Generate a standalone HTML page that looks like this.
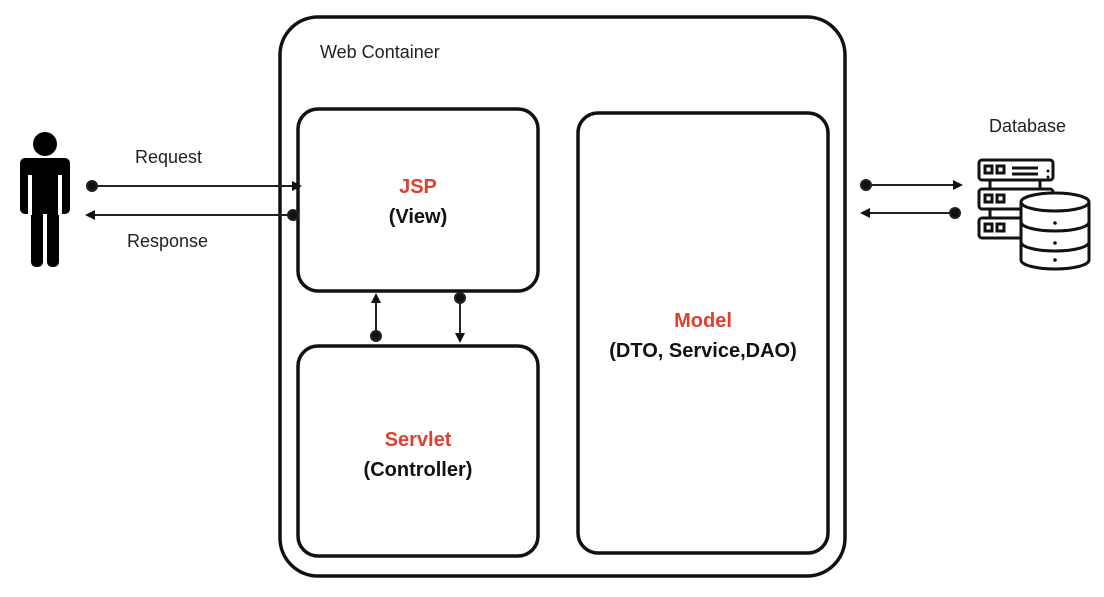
<!DOCTYPE html>
<html><head><meta charset="utf-8"><style>
body{margin:0;background:#fff;}
svg text{font-family:"Liberation Sans",sans-serif;}
</style></head><body>
<svg width="1104" height="592" viewBox="0 0 1104 592" xmlns="http://www.w3.org/2000/svg">
<defs>
<marker id="ah" markerWidth="10" markerHeight="10" refX="8" refY="5" orient="auto" markerUnits="userSpaceOnUse"><path d="M0,0 L10,5 L0,10 z" fill="#111"/></marker>
</defs>
<g fill="none" stroke="#111" stroke-width="3.5">
<rect x="280" y="17" width="565" height="559" rx="38"/>
<rect x="298" y="109" width="240" height="182" rx="20"/>
<rect x="298" y="346" width="240" height="210" rx="20"/>
<rect x="578" y="113" width="250" height="440" rx="20"/>
</g>
<!-- person -->
<g fill="#000">
<circle cx="45" cy="144" r="12"/>
<rect x="20" y="158" width="50" height="56" rx="5"/>
<rect x="31" y="200" width="12" height="67" rx="5"/>
<rect x="47" y="200" width="12" height="67" rx="5"/>
</g>
<rect x="28" y="175" width="4" height="40" fill="#fff"/>
<rect x="58" y="175" width="4" height="40" fill="#fff"/>
<!-- arrows -->
<g stroke="#222" stroke-width="2" fill="#111">
<line x1="92" y1="186" x2="300" y2="186" marker-end="url(#ah)"/>
<circle cx="92" cy="186" r="5"/>
<line x1="293" y1="215" x2="87" y2="215" marker-end="url(#ah)"/>
<circle cx="293" cy="215" r="5"/>
<line x1="376" y1="336" x2="376" y2="295" marker-end="url(#ah)"/>
<circle cx="376" cy="336" r="5"/>
<line x1="460" y1="298" x2="460" y2="341" marker-end="url(#ah)"/>
<circle cx="460" cy="298" r="5"/>
<line x1="866" y1="185" x2="961" y2="185" marker-end="url(#ah)"/>
<circle cx="866" cy="185" r="5"/>
<line x1="955" y1="213" x2="862" y2="213" marker-end="url(#ah)"/>
<circle cx="955" cy="213" r="5"/>
</g>
<!-- db icon -->
<g fill="none" stroke="#111" stroke-width="3">
<rect x="979" y="160" width="74" height="20" rx="3"/>
<rect x="979" y="189" width="74" height="20" rx="3"/>
<rect x="979" y="218" width="74" height="20" rx="3"/>
<line x1="990" y1="180" x2="990" y2="189"/><line x1="1040" y1="180" x2="1040" y2="189"/>
<line x1="990" y1="209" x2="990" y2="218"/>
<rect x="985" y="166" width="7" height="7"/><rect x="997" y="166" width="7" height="7"/>
<rect x="985" y="195" width="7" height="7"/><rect x="997" y="195" width="7" height="7"/>
<rect x="985" y="224" width="7" height="7"/><rect x="997" y="224" width="7" height="7"/>
<line x1="1012" y1="168" x2="1038" y2="168"/><line x1="1012" y1="174" x2="1038" y2="174"/>
<path d="M1021,202 L1021,260 A34,9 0 0 0 1089,260 L1089,202" fill="#fff"/>
<ellipse cx="1055" cy="202" rx="34" ry="9" fill="#fff"/>
<path d="M1021,222 A34,9 0 0 0 1089,222"/>
<path d="M1021,242 A34,9 0 0 0 1089,242"/>
</g>
<g fill="#111"><circle cx="1055" cy="223" r="1.8"/><circle cx="1055" cy="243" r="1.8"/><circle cx="1055" cy="260" r="1.8"/><circle cx="1048" cy="177" r="1.5"/><circle cx="1048" cy="171" r="1.5"/></g>
<!-- text -->
<g fill="#222" font-size="18">
<text x="320" y="58">Web Container</text>
<text x="135" y="163">Request</text>
<text x="127" y="247">Response</text>
<text x="989" y="132">Database</text>
</g>
<g font-weight="bold" font-size="20" text-anchor="middle">
<text x="418" y="193" fill="#e0402e">JSP</text>
<text x="418" y="223" fill="#111">(View)</text>
<text x="418" y="446" fill="#e0402e">Servlet</text>
<text x="418" y="476" fill="#111">(Controller)</text>
<text x="703" y="327" fill="#e0402e">Model</text>
<text x="703" y="357" fill="#111">(DTO, Service,DAO)</text>
</g>
</svg>
</body></html>
